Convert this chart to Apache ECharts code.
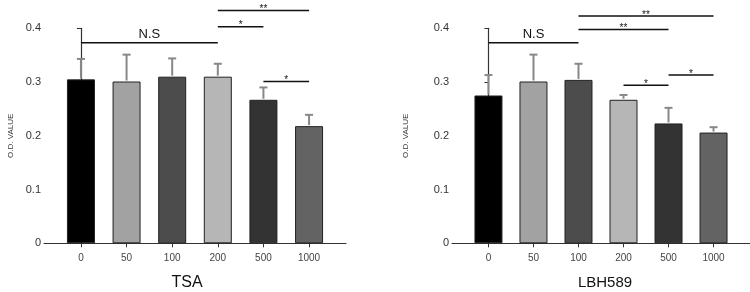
<!DOCTYPE html>
<html>
<head>
<meta charset="utf-8">
<script src="https://cdn.jsdelivr.net/npm/echarts@6/dist/echarts.min.js"></script>
<style>
  html, body { margin: 0; padding: 0; background: #fff; }
  #chart { width: 750px; height: 292px; }
</style>
</head>
<body>
<div id="chart"></div>
<script>
// data
const categories = ['0', '50', '100', '200', '500', '1000'];
const tsaMean = [0.305, 0.301, 0.310, 0.310, 0.267, 0.218];
const tsaSd = [0.038, 0.050, 0.034, 0.024, 0.023, 0.021];
const lbhMean = [0.275, 0.301, 0.304, 0.267, 0.223, 0.206];
const lbhSd = [0.038, 0.050, 0.030, 0.009, 0.029, 0.010];
// [from, to, height, label]
const tsaSig = [[0, 3, 0.373, 'N.S'], [3, 4, 0.403, '*'], [3, 5, 0.433, '**'], [4, 5, 0.301, '*']];
const lbhSig = [[0, 2, 0.373, 'N.S'], [2, 4, 0.398, '**'], [2, 5, 0.423, '**'], [3, 4, 0.294, '*'], [4, 5, 0.313, '*']];
const barColors = ['#000000', '#a2a2a2', '#4c4c4c', '#b6b6b6', '#333333', '#636363'];

const font = 'Liberation Sans';
const chart = echarts.init(document.getElementById('chart'));

function xAxisOf(gi) {
  return {
    type: 'value', gridIndex: gi, min: -0.81, max: 5.81,
    splitLine: { show: false },
    axisLine: { lineStyle: { color: '#333', width: 1.2 } },
    axisTick: { customValues: [0, 1, 2, 3, 4, 5], length: 4, lineStyle: { color: '#333' } },
    axisLabel: {
      customValues: [0, 1, 2, 3, 4, 5],
      formatter: v => categories[Math.round(v)],
      fontSize: 10, color: '#444', margin: 10, fontFamily: font
    }
  };
}

function yAxisOf(gi, gap) {
  return {
    type: 'value', gridIndex: gi, min: 0, max: 0.4, interval: 0.1,
    splitLine: { show: false },
    axisLine: { show: true, lineStyle: { color: '#333', width: 1.2 } },
    axisTick: { show: true, length: 4, lineStyle: { color: '#333' } },
    axisLabel: {
      formatter: v => (v === 0 ? '0' : v.toFixed(1)),
      fontSize: 11, color: '#333', margin: 3, fontFamily: font
    },
    name: 'O.D. VALUE', nameLocation: 'middle', nameGap: gap,
    nameTextStyle: { fontSize: 8, color: '#333', fontFamily: font }
  };
}

function barSeries(gi, mean) {
  return {
    type: 'bar', xAxisIndex: gi, yAxisIndex: gi, barWidth: 28,
    data: mean.map((v, i) => ({
      value: [i, v],
      itemStyle: { color: barColors[i], borderColor: '#222', borderWidth: 1 }
    })),
    z: 3
  };
}

function errSeries(gi, mean, sd) {
  return {
    type: 'custom', xAxisIndex: gi, yAxisIndex: gi, clip: false, z: 2,
    data: mean.map((v, i) => [i, v, v + sd[i]]),
    renderItem: (params, api) => {
      const base = api.coord([api.value(0), api.value(1)]);
      const top = api.coord([api.value(0), api.value(2)]);
      const st = { stroke: '#888', lineWidth: 2 };
      return {
        type: 'group',
        children: [
          { type: 'line', shape: { x1: base[0], y1: base[1] - 1, x2: top[0], y2: top[1] }, style: st },
          { type: 'line', shape: { x1: top[0] - 4, y1: top[1], x2: top[0] + 4, y2: top[1] }, style: st }
        ]
      };
    }
  };
}

function sigSeries(gi, sig) {
  return {
    type: 'custom', xAxisIndex: gi, yAxisIndex: gi, clip: false, z: 4,
    data: sig.map(s => [s[0], s[1], s[2]]),
    renderItem: (params, api) => {
      const a = api.coord([api.value(0), api.value(2)]);
      const b = api.coord([api.value(1), api.value(2)]);
      const label = sig[params.dataIndex][3];
      const isNs = label === 'N.S';
      return {
        type: 'group',
        children: [
          { type: 'line', shape: { x1: a[0], y1: a[1], x2: b[0], y2: b[1] }, style: { stroke: '#111', lineWidth: 1.5 } },
          {
            type: 'text',
            style: {
              text: label, x: (a[0] + b[0]) / 2, y: a[1] - (isNs ? 8 : 1),
              align: 'center', verticalAlign: 'middle',
              fontSize: isNs ? 13 : 10, fill: '#111', fontFamily: font
            }
          }
        ]
      };
    }
  };
}

chart.setOption({
  animation: false,
  grid: [
    { left: 44, top: 28.3, width: 302, height: 215 },
    { left: 452, top: 28.3, width: 302, height: 215 }
  ],
  xAxis: [xAxisOf(0), xAxisOf(1)],
  yAxis: [yAxisOf(0, 29), yAxisOf(1, 42)],
  series: [
    barSeries(0, tsaMean), errSeries(0, tsaMean, tsaSd), sigSeries(0, tsaSig),
    barSeries(1, lbhMean), errSeries(1, lbhMean, lbhSd), sigSeries(1, lbhSig)
  ],
  graphic: [
    { type: 'text', x: 187, y: 283, style: { text: 'TSA', fontSize: 16, fill: '#111', fontFamily: font, align: 'center', verticalAlign: 'middle' } },
    { type: 'text', x: 605, y: 283, style: { text: 'LBH589', fontSize: 15, fill: '#111', fontFamily: font, align: 'center', verticalAlign: 'middle' } }
  ]
});
</script>
</body>
</html>
